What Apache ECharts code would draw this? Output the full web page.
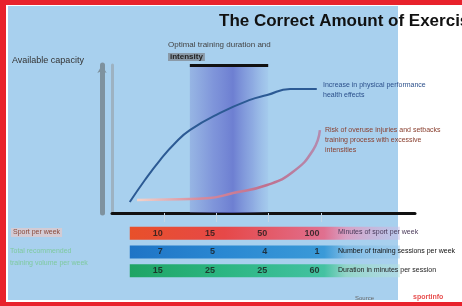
<!DOCTYPE html>
<html>
<head>
<meta charset="utf-8">
<script src="https://cdn.jsdelivr.net/npm/echarts@6/dist/echarts.min.js"></script>
<style>
	html, body { margin: 0; padding: 0; background: #fff; overflow: hidden; }
	#main { width: 462px; height: 306px; }
</style>
</head>
<body>
<div id="main"></div>
<script>
// --- data ---
var xTicks = [1, 2, 3, 4]
var performanceCurve = [
	[0.34, 0.74], [0.63, 2.23], [0.92, 3.58], [1.2, 4.7], [1.49, 5.6],
	[2.07, 6.76], [2.64, 7.64], [2.97, 7.97], [3.41, 8.38], [3.92, 8.38]
]
var injuryRiskCurve = [
	[0.48, 0.88], [1.3, 0.93], [1.82, 0.99], [2.32, 1.35], [2.97, 1.89],
	[3.46, 2.77], [3.85, 4.26], [3.98, 5.6]
]
var optimalZone = [1.49, 2.99]
var rowNames = ['Minuten pro Woche', 'Einheiten pro Woche', 'Minuten pro Einheit']
var weeklyMinutes = [10, 15, 50, 100]
var sessionsPerWeek = [7, 5, 4, 1]
var sessionMinutes = [15, 25, 25, 60]
var barSpan = [0.34, 5.51]

var FONT = 'Liberation Sans'
var rowValues = [weeklyMinutes, sessionsPerWeek, sessionMinutes]
var rowColors = [
	['#e8502a', '#e64848', '#e07090', '#d8a0c4', 'rgba(200,190,230,0.5)'],
	['#1e74c6', '#2a88d2', '#3a9ad8', '#7fbbe4', 'rgba(150,200,235,0.5)'],
	['#1fa464', '#2cb682', '#44c2a2', '#92d4c8', 'rgba(180,225,220,0.5)']
]

var myChart = echarts.init(document.getElementById('main'))

var labelData = []
rowValues.forEach(function (vals, r) {
	vals.forEach(function (v, i) {
		labelData.push([xTicks[i], r, v])
	})
})

function gradient(stops) {
	return new echarts.graphic.LinearGradient(0, 0, 1, 0, stops)
}

function note(left, top, text, fill, font, extra) {
	var style = { text: text, fill: fill, font: font + ' ' + FONT }
	for (var k in extra || {}) style[k] = extra[k]
	return { type: 'text', left: left, top: top, z: 100, style: style }
}

function box(x, y, w, h, fill) {
	return { type: 'rect', left: x, top: y, z: -10, shape: { width: w, height: h }, style: { fill: fill } }
}

myChart.setOption({
	backgroundColor: '#ffffff',
	textStyle: { fontFamily: FONT },
	title: {
		text: 'The Correct Amount of Exercise',
		left: 214,
		top: 8,
		textStyle: { fontSize: 17, fontWeight: 'bold', color: '#111', fontFamily: FONT }
	},
	graphic: [
		box(0, 0, 462, 5, '#e8222c'),
		box(0, 0, 6, 306, '#e8222c'),
		box(0, 302, 462, 4, '#e8222c'),
		box(8, 6, 390, 294, '#a8d0ee'),
		note(12, 56, 'Available capacity', '#333', '9px'),
		note(168, 41, 'Optimal training duration and', '#444', '8px'),
		note(168, 53, 'intensity', '#222', 'bold 8px', { backgroundColor: '#8a9aa8', padding: [0, 2] }),
		note(323, 80, 'Increase in physical performance\nhealth effects', '#2b4f8a', '7px', { lineHeight: 10 }),
		note(325, 125, 'Risk of overuse injuries and setbacks\ntraining process with excessive\nintensities', '#8a4030', '7px', { lineHeight: 10 }),
		note(11, 228, 'Sport per week', '#8a4a3a', '7px', { backgroundColor: 'rgba(240,200,195,0.6)', padding: [1, 2] }),
		note(10, 245, 'Total recommended\ntraining volume per week', '#7fcaa0', '7px', { lineHeight: 12 }),
		note(338, 229, 'Minutes of sport per week', '#4a3a5a', '7px'),
		note(338, 248, 'Number of training sessions per week', '#111', '7px'),
		note(338, 267, 'Duration in minutes per session', '#222', '7px'),
		note(355, 295, 'Source', '#666', '6px'),
		note(413, 294, 'sportinfo', '#e85050', 'bold 7px')
	],
	grid: [
		{ left: 112, right: 47, top: 65, bottom: 93, outerBoundsMode: 'none' },
		{ left: 112, right: 47, top: 224, bottom: 26, outerBoundsMode: 'none' }
	],
	xAxis: [
		{
			type: 'value', gridIndex: 0, min: 0, max: 5.8, interval: 1,
			axisLine: { show: true, onZero: false, lineStyle: { color: '#111', width: 3 } },
			axisTick: { show: true, inside: false, length: 9, customValues: xTicks, lineStyle: { color: '#c2d6e6', width: 1 } },
			axisLabel: { show: false },
			splitLine: { show: false }
		},
		{
			type: 'value', gridIndex: 1, min: 0, max: 5.8,
			axisLine: { show: false }, axisTick: { show: false },
			axisLabel: { show: false }, splitLine: { show: false }
		}
	],
	yAxis: [
		{
			type: 'value', gridIndex: 0, min: 0, max: 10,
			axisLine: { show: true, lineStyle: { color: '#9db2c2', width: 3 } },
			axisTick: { show: false }, axisLabel: { show: false }, splitLine: { show: false }
		},
		{
			type: 'value', gridIndex: 0, min: 0, max: 10, position: 'left', offset: 10,
			axisLine: { show: true, symbol: ['none', 'arrow'], symbolSize: [7, 8], lineStyle: { color: '#7e929f', width: 5 } },
			axisTick: { show: false }, axisLabel: { show: false }, splitLine: { show: false }
		},
		{
			type: 'category', gridIndex: 1, data: rowNames, inverse: true,
			axisLine: { show: false }, axisTick: { show: false }, axisLabel: { show: false }
		}
	],
	series: [
		{
			name: 'zone',
			type: 'line',
			xAxisIndex: 0, yAxisIndex: 0,
			data: [],
			markArea: {
				silent: true,
				itemStyle: {
					color: gradient([
						{ offset: 0, color: 'rgba(110,120,205,0.3)' },
						{ offset: 0.3, color: 'rgba(100,110,205,0.6)' },
						{ offset: 0.55, color: 'rgba(90,100,200,0.75)' },
						{ offset: 0.8, color: 'rgba(110,125,210,0.45)' },
						{ offset: 1, color: 'rgba(130,150,220,0.1)' }
					])
				},
				data: [[{ xAxis: optimalZone[0], yAxis: 0 }, { xAxis: optimalZone[1], yAxis: 10 }]]
			},
			markLine: {
				silent: true,
				symbol: 'none',
				label: { show: false },
				lineStyle: { color: '#111', width: 3, type: 'solid' },
				data: [[{ coord: [optimalZone[0], 10] }, { coord: [optimalZone[1], 10] }]]
			}
		},
		{
			name: 'performance',
			type: 'line',
			xAxisIndex: 0, yAxisIndex: 0,
			smooth: true,
			showSymbol: false,
			data: performanceCurve,
			lineStyle: { color: '#2c5a94', width: 2 },
			z: 5
		},
		{
			name: 'risk',
			type: 'line',
			xAxisIndex: 0, yAxisIndex: 0,
			smooth: true,
			showSymbol: false,
			data: injuryRiskCurve,
			lineStyle: {
				width: 2.5,
				color: gradient([
					{ offset: 0, color: '#f4d6cc' },
					{ offset: 0.35, color: '#d68a9c' },
					{ offset: 0.7, color: '#c0708e' },
					{ offset: 1, color: '#b48cb0' }
				])
			},
			z: 5
		},
		{
			name: 'rows',
			type: 'custom',
			xAxisIndex: 1, yAxisIndex: 2,
			data: rowNames.map(function (n, r) { return [barSpan[0], barSpan[1], r] }),
			renderItem: function (params, api) {
				var r = api.value(2)
				var p0 = api.coord([api.value(0), r])
				var p1 = api.coord([api.value(1), r])
				var h = 13
				var c = rowColors[r]
				return {
					type: 'rect',
					shape: { x: p0[0], y: p0[1] - h / 2, width: p1[0] - p0[0], height: h },
					style: {
						fill: gradient([
							{ offset: 0, color: c[0] },
							{ offset: 0.35, color: c[1] },
							{ offset: 0.72, color: c[2] },
							{ offset: 0.8, color: c[3] },
							{ offset: 1, color: c[4] }
						])
					}
				}
			},
			z: 1
		},
		{
			name: 'values',
			type: 'scatter',
			xAxisIndex: 1, yAxisIndex: 2,
			symbolSize: 1,
			itemStyle: { color: 'rgba(0,0,0,0)' },
			data: labelData,
			label: {
				show: true,
				position: 'left',
				distance: 1,
				formatter: function (p) { return p.value[2] },
				color: '#1a1a1a',
				fontSize: 9,
				fontWeight: 'bold',
				fontFamily: FONT
			},
			z: 3
		}
	]
})
</script>
</body>
</html>
